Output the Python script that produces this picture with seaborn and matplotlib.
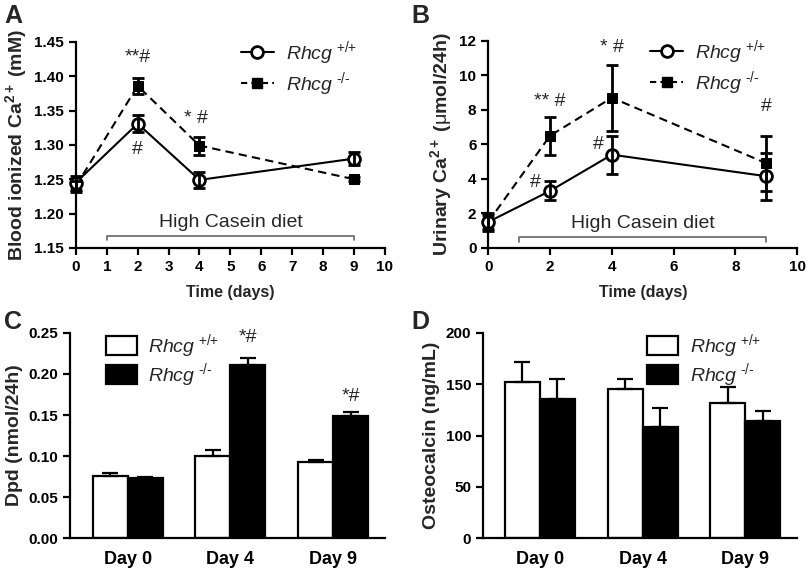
import seaborn as sns
import pandas as pd
import numpy as np
import matplotlib.pyplot as plt
from matplotlib.patches import Patch
from matplotlib.lines import Line2D

sns.set_style("ticks")
plt.rcParams['font.family'] = ['Liberation Sans', 'DejaVu Sans']
plt.rcParams['mathtext.fontset'] = 'custom'
plt.rcParams['mathtext.rm'] = 'Liberation Sans'
plt.rcParams['mathtext.it'] = 'Liberation Sans:italic'
plt.rcParams['mathtext.bf'] = 'Liberation Sans:bold'

# data
days = [0, 2, 4, 9]
ca_blood_wt = [1.245, 1.331, 1.249, 1.280]
ca_blood_wt_sem = [0.010, 0.012, 0.012, 0.010]
ca_blood_ko = [1.240, 1.386, 1.299, 1.250]
ca_blood_ko_sem = [0.008, 0.012, 0.013, 0.003]

ca_urine_wt = [1.5, 3.3, 5.4, 4.15]
ca_urine_wt_sem = [0.5, 0.55, 1.1, 1.35]
ca_urine_ko = [1.5, 6.5, 8.7, 4.9]
ca_urine_ko_sem = [0.4, 1.1, 1.9, 1.6]

bar_days = ["Day 0", "Day 4", "Day 9"]
dpd_wt = [0.076, 0.100, 0.093]
dpd_wt_sem = [0.004, 0.007, 0.002]
dpd_ko = [0.073, 0.211, 0.149]
dpd_ko_sem = [0.002, 0.009, 0.005]

ocn_wt = [152, 145, 132]
ocn_wt_sem = [20, 10, 15]
ocn_ko = [136, 108, 114]
ocn_ko_sem = [19, 18.5, 10]

lab_wt = r"$\mathit{Rhcg}^{\ \text{+/+}}$"
lab_ko = r"$\mathit{Rhcg}^{\ \text{-/-}}$"

fig = plt.figure(figsize=(8.07, 5.75), dpi=100)
axA = fig.add_axes([0.094, 0.569, 0.383, 0.358])
axB = fig.add_axes([0.605, 0.569, 0.383, 0.360])
axC = fig.add_axes([0.0867, 0.064, 0.390, 0.357])
axD = fig.add_axes([0.5985, 0.064, 0.389, 0.357])

LEG = dict(frameon=False, fontsize=14, handletextpad=0.6, borderpad=0.2)


def style_axis(ax):
    for s in ['top', 'right']:
        ax.spines[s].set_visible(False)
    for s in ['left', 'bottom']:
        ax.spines[s].set_linewidth(1.6)
        ax.spines[s].set_color('black')
    ax.tick_params(width=1.6, length=5, labelsize=11, colors='black')
    for t in ax.get_xticklabels() + ax.get_yticklabels():
        t.set_fontweight('bold')


def line_panel(ax, wt, wt_e, ko, ko_e):
    df_wt = pd.DataFrame({"day": days, "val": wt})
    df_ko = pd.DataFrame({"day": days, "val": ko})
    sns.lineplot(data=df_ko, x="day", y="val", ax=ax, color='black', lw=1.5,
                 linestyle=(0, (4, 2.5)), marker='s', ms=6.5, mec='black',
                 mfc='black', clip_on=False, zorder=3)
    sns.lineplot(data=df_wt, x="day", y="val", ax=ax, color='black', lw=1.5,
                 marker='o', ms=8.5, mfc='white', mec='black', mew=2,
                 clip_on=False, zorder=4)
    ax.errorbar(days, wt, yerr=wt_e, fmt='none', ecolor='black', elinewidth=2,
                capsize=4.5, capthick=2, clip_on=False, zorder=5)
    ax.errorbar(days, ko, yerr=ko_e, fmt='none', ecolor='black', elinewidth=2,
                capsize=4.5, capthick=2, clip_on=False, zorder=5)
    h = [Line2D([], [], color='black', lw=1.5, marker='o', ms=8.5, mfc='white', mew=2),
         Line2D([], [], color='black', lw=1.5, linestyle=(0, (3, 2)), marker='s', ms=6.5)]
    return h


def bracket(ax, y, tick, ytext):
    ax.plot([1, 1, 9, 9], [y - tick, y, y, y - tick], color='#666666', lw=1.2,
            clip_on=False)
    ax.text(5, ytext, "High Casein diet", ha='center', va='center', fontsize=14)


# panel A
h = line_panel(axA, ca_blood_wt, ca_blood_wt_sem, ca_blood_ko, ca_blood_ko_sem)
axA.set_xlim(0, 10)
axA.set_ylim(1.15, 1.45)
axA.set_xticks(range(0, 11))
axA.set_yticks(np.arange(1.15, 1.451, 0.05))
axA.set_yticklabels([f"{v:.2f}" for v in np.arange(1.15, 1.451, 0.05)])
axA.set_xlabel("Time (days)", fontsize=11.5, fontweight='bold', labelpad=8)
axA.set_ylabel(r"Blood ionized Ca$^{\mathbf{2+}}$ (mM)", fontsize=14, fontweight='bold')
bracket(axA, 1.1675, 0.006, 1.187)
axA.text(2, 1.427, "**#", ha='center', va='center', fontsize=14)
axA.text(2, 1.293, "#", ha='center', va='center', fontsize=14)
axA.text(3.9, 1.339, "* #", ha='center', va='center', fontsize=14)
axA.legend(h, [lab_wt, lab_ko], loc='upper left', bbox_to_anchor=(0.49, 1.08),
           handlelength=1.7, labelspacing=0.15, **LEG)
style_axis(axA)

# panel B
h = line_panel(axB, ca_urine_wt, ca_urine_wt_sem, ca_urine_ko, ca_urine_ko_sem)
axB.set_xlim(0, 10)
axB.set_ylim(0, 12)
axB.set_xticks(range(0, 11, 2))
axB.set_yticks(range(0, 13, 2))
axB.set_xlabel("Time (days)", fontsize=11.5, fontweight='bold', labelpad=8)
axB.set_ylabel(r"Urinary Ca$^{\mathbf{2+}}$ ($\mathrm{\mu}$mol/24h)", fontsize=14, fontweight='bold')
bracket(axB, 0.6, 0.25, 1.4)
axB.text(4, 11.6, "* #", ha='center', va='center', fontsize=14)
axB.text(2, 8.5, "** #", ha='center', va='center', fontsize=14)
axB.text(1.53, 3.8, "#", ha='center', va='center', fontsize=14)
axB.text(3.56, 6.0, "#", ha='center', va='center', fontsize=14)
axB.text(9, 8.2, "#", ha='center', va='center', fontsize=14)
axB.legend(h, [lab_wt, lab_ko], loc='upper left', bbox_to_anchor=(0.48, 1.08),
           handlelength=1.7, labelspacing=0.15, **LEG)
style_axis(axB)


def bar_panel(ax, wt, wt_e, ko, ko_e):
    df = pd.DataFrame({
        "day": bar_days * 2,
        "val": wt + ko,
        "geno": ["wt"] * 3 + ["ko"] * 3,
    })
    sns.barplot(data=df, x="day", y="val", hue="geno", ax=ax,
                palette={"wt": "white", "ko": "black"}, edgecolor='black',
                linewidth=1.6, width=0.68, errorbar=None, legend=False,
                saturation=1)
    for cont, err in zip(ax.containers, [wt_e, ko_e]):
        xs = [p.get_x() + p.get_width() / 2 for p in cont.patches]
        ys = [p.get_height() for p in cont.patches]
        ax.errorbar(xs, ys, yerr=[[0] * len(err), err], fmt='none', ecolor='black',
                    elinewidth=1.6, capsize=6, capthick=1.6, zorder=1)
    ax.set_xlabel("")
    h = [Patch(facecolor='white', edgecolor='black', lw=1.6),
         Patch(facecolor='black', edgecolor='black', lw=1.6)]
    return h


# panel C
h = bar_panel(axC, dpd_wt, dpd_wt_sem, dpd_ko, dpd_ko_sem)
axC.set_xlim(-0.56, 2.5)
axC.set_ylim(0, 0.25)
axC.set_yticks(np.arange(0, 0.251, 0.05))
axC.set_yticklabels([f"{v:.2f}" for v in np.arange(0, 0.251, 0.05)])
axC.set_ylabel("Dpd (nmol/24h)", fontsize=14, fontweight='bold')
axC.text(1.17, 0.244, "*#", ha='center', va='center', fontsize=14)
axC.text(2.17, 0.173, "*#", ha='center', va='center', fontsize=14)
axC.legend(h, [lab_wt, lab_ko], loc='upper left', bbox_to_anchor=(0.07, 1.07),
           handlelength=1.6, handleheight=1.1, labelspacing=0.05, **LEG)
style_axis(axC)
axC.tick_params(axis='x', length=0, pad=9)
for t in axC.get_xticklabels():
    t.set_fontsize(13)

# panel D
h = bar_panel(axD, ocn_wt, ocn_wt_sem, ocn_ko, ocn_ko_sem)
axD.set_xlim(-0.55, 2.5)
axD.set_ylim(0, 200)
axD.set_yticks(range(0, 201, 50))
axD.set_ylabel("Osteocalcin (ng/mL)", fontsize=14, fontweight='bold')
axD.legend(h, [lab_wt, lab_ko], loc='upper left', bbox_to_anchor=(0.48, 1.07),
           handlelength=1.6, handleheight=1.1, labelspacing=0.05, **LEG)
style_axis(axD)
axD.tick_params(axis='x', length=0, pad=9)
for t in axD.get_xticklabels():
    t.set_fontsize(13)

for lbl, x, y in [("A", 0.005, 0.972), ("B", 0.51, 0.972), ("C", 0.005, 0.44), ("D", 0.51, 0.44)]:
    fig.text(x, y, lbl, fontsize=18, fontweight='bold', va='center')

fig.savefig("out.png", dpi=100)
